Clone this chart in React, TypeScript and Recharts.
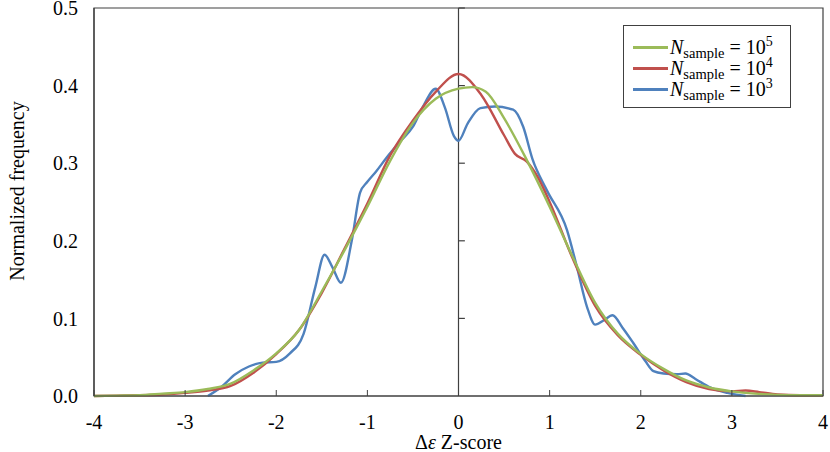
import React from 'react';
import { LineChart, Line, XAxis, YAxis, ReferenceLine, ReferenceArea, Label } from 'recharts';

const xTicks = [-4, -3, -2, -1, 0, 1, 2, 3, 4];
const yTicks = [0, 0.1, 0.2, 0.3, 0.4, 0.5];

const greenX = [-4, -3.75, -3.5, -3.25, -3, -2.75, -2.5, -2.25, -2, -1.75, -1.5, -1.25, -1, -0.75, -0.5, -0.25, 0, 0.15, 0.3, 0.5, 0.75, 1, 1.25, 1.5, 1.75, 2, 2.25, 2.5, 2.75, 3, 3.25, 3.5, 3.75, 4];
const greenY = [0, 0.0005, 0.001, 0.003, 0.005, 0.009, 0.016, 0.033, 0.055, 0.085, 0.135, 0.188, 0.244, 0.303, 0.352, 0.383, 0.396, 0.398, 0.392, 0.358, 0.304, 0.244, 0.18, 0.12, 0.08, 0.054, 0.035, 0.02, 0.011, 0.006, 0.003, 0.0015, 0.001, 0.001];

const redX = [-4, -3.75, -3.5, -3.25, -3, -2.75, -2.5, -2.25, -2, -1.75, -1.5, -1.25, -1, -0.75, -0.5, -0.25, 0, 0.25, 0.5, 0.62, 0.75, 0.87, 1, 1.25, 1.5, 1.75, 2, 2.25, 2.5, 2.75, 3, 3.15, 3.3, 3.5, 3.75, 4];
const redY = [0, 0.0005, 0.001, 0.002, 0.004, 0.007, 0.013, 0.03, 0.054, 0.085, 0.133, 0.19, 0.248, 0.31, 0.355, 0.392, 0.415, 0.388, 0.336, 0.312, 0.302, 0.282, 0.25, 0.178, 0.116, 0.078, 0.053, 0.033, 0.018, 0.009, 0.006, 0.007, 0.005, 0.002, 0.001, 0.001];

const blueX = [-2.75, -2.6, -2.45, -2.3, -2.15, -2.0, -1.85, -1.7, -1.57, -1.47, -1.38, -1.29, -1.17, -1.08, -1.0, -0.9, -0.79, -0.64, -0.5, -0.39, -0.25, -0.15, -0.05, 0.0, 0.1, 0.24, 0.4, 0.6, 0.71, 0.81, 0.97, 1.19, 1.3, 1.41, 1.5, 1.6, 1.69, 1.8, 1.92, 2.05, 2.14, 2.25, 2.4, 2.49, 2.6, 2.76, 2.95, 3.15];
const blueY = [0, 0.012, 0.028, 0.038, 0.043, 0.044, 0.055, 0.08, 0.141, 0.182, 0.165, 0.146, 0.201, 0.262, 0.276, 0.29, 0.307, 0.328, 0.347, 0.373, 0.396, 0.372, 0.335, 0.329, 0.351, 0.371, 0.373, 0.369, 0.347, 0.306, 0.265, 0.214, 0.166, 0.115, 0.092, 0.098, 0.104, 0.088, 0.068, 0.045, 0.032, 0.029, 0.028, 0.029, 0.022, 0.011, 0.004, 0];

const zip = (xs: number[], ys: number[]) => xs.map((x, i) => ({ x, y: ys[i] }));
const greenData = zip(greenX, greenY);
const redData = zip(redX, redY);
const blueData = zip(blueX, blueY);

const legendItems = [
  { color: '#9BBB59', exp: '5' },
  { color: '#C0504D', exp: '4' },
  { color: '#4F81BD', exp: '3' },
];

const FONT = '"Liberation Serif", "Times New Roman", serif';
const AXIS = '#404040';

const LegendBox = () => (
  <div
    style={{
      position: 'absolute',
      left: 623,
      top: 25,
      width: 168,
      height: 83,
      border: '1px solid #404040',
      background: '#fff',
      fontFamily: FONT,
      fontSize: 20,
      color: '#000',
      paddingTop: 11,
      boxSizing: 'border-box',
    }}
  >
    {legendItems.map((it) => (
      <div key={it.exp} style={{ display: 'flex', alignItems: 'center', height: 21, whiteSpace: 'nowrap' }}>
        <div style={{ width: 35, height: 2.5, background: it.color, marginLeft: 9, marginRight: 2 }} />
        <span style={{ lineHeight: '21px' }}>
          <i>N</i>
          <span style={{ fontSize: 14.5, verticalAlign: -4 }}>sample</span>
          {' = 10'}
          <span style={{ fontSize: 14, verticalAlign: 8 }}>{it.exp}</span>
        </span>
      </div>
    ))}
  </div>
);

const renderYLabel = () => {
  const cx = 17;
  const cy = 191;
  return (
    <text
      x={cx}
      y={cy}
      transform={`rotate(-90, ${cx}, ${cy})`}
      textAnchor="middle"
      dominantBaseline="central"
      fontFamily={FONT}
      fontSize={20}
      fill="#000"
    >
      Normalized frequency
    </text>
  );
};

const renderXLabel = (props: any) => {
  const vb = props.viewBox || {};
  const cx = (vb.x ?? 94) + (vb.width ?? 729) / 2;
  return (
    <text x={cx} y={449} textAnchor="middle" fontFamily={FONT} fontSize={20} fill="#000">
      {'Δ'}
      <tspan fontStyle="italic">{'ε'}</tspan>
      {' Z-score'}
    </text>
  );
};

export default function App() {
  return (
    <div style={{ position: 'absolute', left: 0, top: 0, width: 830, height: 452, background: '#fff' }}>
      <LineChart width={830} height={452} margin={{ top: 8, right: 7, bottom: 0, left: 0 }}>
        <XAxis
          dataKey="x"
          type="number"
          domain={[-4, 4]}
          ticks={xTicks}
          allowDataOverflow
          height={56}
          axisLine={{ stroke: AXIS, strokeWidth: 1.2 }}
          tickLine={{ stroke: AXIS }}
          tickSize={-6}
          tickMargin={25}
          tick={{ fontFamily: FONT, fontSize: 20, fill: '#000' }}
          interval={0}
        >
          <Label content={renderXLabel} />
        </XAxis>
        <YAxis
          type="number"
          domain={[0, 0.5]}
          ticks={yTicks}
          width={94}
          axisLine={{ stroke: AXIS, strokeWidth: 1.2 }}
          tickLine={false}
          tickSize={0}
          tickMargin={16}
          tickFormatter={(v: number) => v.toFixed(1)}
          tick={{ fontFamily: FONT, fontSize: 20, fill: '#000' }}
          interval={0}
        >
          <Label content={renderYLabel} />
        </YAxis>
        <ReferenceArea x1={-4} x2={4} y1={0} y2={0.5} fill="none" stroke={AXIS} strokeWidth={1.2} fillOpacity={0} />
        <ReferenceLine x={0} stroke={AXIS} strokeWidth={1.2} />
        {yTicks.slice(1).map((v) => (
          <ReferenceLine
            key={v}
            segment={[
              { x: 0, y: v },
              { x: 0.07, y: v },
            ]}
            stroke={AXIS}
            strokeWidth={1.2}
          />
        ))}
        <Line data={blueData} dataKey="y" type="monotone" stroke="#4F81BD" strokeWidth={2.4} dot={false} activeDot={false} isAnimationActive={false} />
        <Line data={redData} dataKey="y" type="monotone" stroke="#C0504D" strokeWidth={2.4} dot={false} activeDot={false} isAnimationActive={false} />
        <Line data={greenData} dataKey="y" type="monotone" stroke="#9BBB59" strokeWidth={2.4} dot={false} activeDot={false} isAnimationActive={false} />
      </LineChart>
      <LegendBox />
    </div>
  );
}
